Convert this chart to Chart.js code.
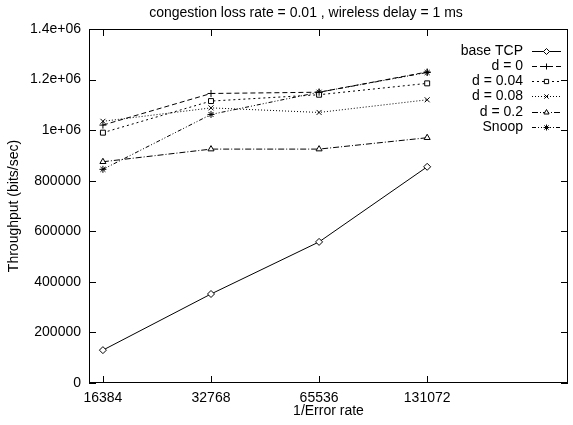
<!DOCTYPE html>
<html>
<head>
<meta charset="utf-8">
<script src="https://cdn.jsdelivr.net/npm/chart.js@4/dist/chart.umd.min.js"></script>
<style>
  html, body { margin: 0; padding: 0; background: #fff; }
  #wrap { width: 573px; height: 425px; }
</style>
</head>
<body>
<div id="wrap"><canvas id="tputChart" width="573" height="425"></canvas></div>
<script>
// 1/error rate on the x axis, throughput (bits/sec) per variant
var errorRates = [16384, 32768, 65536, 131072];
var baseTcp = [130000, 352000, 558000, 855000];
var dZero = [1020000, 1145000, 1150000, 1230000];
var dPoint04 = [990000, 1115000, 1140000, 1185000];
var dPoint08 = [1035000, 1088000, 1070000, 1120000];
var dPoint2 = [875000, 925000, 925000, 970000];
var snoop = [845000, 1062000, 1150000, 1228000];
var yTicks = [0, 200000, 400000, 600000, 800000, 1000000, 1200000, 1400000];

var FONT = '"Liberation Sans", Arial, Helvetica, sans-serif';

function pts(vals) {
    return vals.map(function (v, i) { return { x: errorRates[i], y: v }; });
}

function series(label, vals, style, dash) {
    return {
        label: label,
        data: pts(vals),
        borderColor: '#000',
        borderWidth: 1,
        borderDash: dash,
        pointStyle: style,
        pointRadius: 3.5,
        pointBorderWidth: 1,
        pointBorderColor: '#000',
        pointBackgroundColor: '#fff',
        fill: false,
        tension: 0
    };
}

// gnuplot-like frame: border, inward mirrored ticks, title and legend
var gnuFrame = {
    id: 'gnuFrame',
    afterDraw: function (chart) {
        var ctx = chart.ctx, a = chart.chartArea;
        var xs = chart.scales.x, ys = chart.scales.y;
        ctx.save();
        ctx.strokeStyle = '#000';
        ctx.lineWidth = 1;
        ctx.setLineDash([]);
        ctx.strokeRect(a.left + 0.5, a.top + 0.5, a.right - a.left - 1, a.bottom - a.top - 1);
        ctx.beginPath();
        errorRates.forEach(function (v) {
            var px = Math.round(xs.getPixelForValue(v)) + 0.5;
            ctx.moveTo(px, a.bottom); ctx.lineTo(px, a.bottom - 7);
            ctx.moveTo(px, a.top); ctx.lineTo(px, a.top + 7);
        });
        yTicks.forEach(function (v) {
            var py = Math.round(ys.getPixelForValue(v)) + 0.5;
            ctx.moveTo(a.left, py); ctx.lineTo(a.left + 7, py);
            ctx.moveTo(a.right, py); ctx.lineTo(a.right - 7, py);
        });
        ctx.stroke();

        ctx.fillStyle = '#000';
        ctx.font = '14px ' + FONT;
        ctx.textAlign = 'center';
        ctx.textBaseline = 'middle';
        ctx.fillText('congestion loss rate = 0.01 , wireless delay = 1 ms', 306, 13);

        // legend: right aligned text, sample line on the right
        ctx.textAlign = 'right';
        chart.data.datasets.forEach(function (ds, i) {
            var y = Math.round(50.5 + i * 15.3) + 0.5;
            ctx.fillStyle = '#000';
            ctx.fillText(ds.label, 523, y);
            ctx.beginPath();
            ctx.setLineDash(ds.borderDash || []);
            ctx.moveTo(532, y);
            ctx.lineTo(561, y);
            ctx.stroke();
            ctx.setLineDash([]);
            ctx.fillStyle = '#fff';
            Chart.helpers.drawPoint(ctx, {
                pointStyle: ds.pointStyle, radius: 3, borderWidth: 1
            }, 546.5, y);
        });
        ctx.restore();
    }
};

Chart.defaults.font.family = FONT;
Chart.defaults.font.size = 14;
Chart.defaults.color = '#000';

new Chart(document.getElementById('tputChart'), {
    type: 'line',
    data: {
        datasets: [
            series('base TCP', baseTcp, 'rectRot', []),
            series('d = 0', dZero, 'cross', [5, 3]),
            series('d = 0.04', dPoint04, 'rect', [2, 3]),
            series('d = 0.08', dPoint08, 'crossRot', [1, 2]),
            series('d = 0.2', dPoint2, 'triangle', [6, 2, 1, 2]),
            series('Snoop', snoop, 'star', [4, 2, 1, 2, 1, 2])
        ]
    },
    options: {
        responsive: false,
        animation: false,
        devicePixelRatio: 1,
        layout: { padding: { top: 29, right: 1, left: 0, bottom: 0 } },
        plugins: {
            legend: { display: false },
            tooltip: { enabled: false },
            title: { display: false }
        },
        scales: {
            x: {
                type: 'logarithmic',
                min: 14985,
                max: 323400,
                afterBuildTicks: function (s) {
                    s.ticks = errorRates.map(function (v) { return { value: v }; });
                },
                afterFit: function (s) { s.height = 42; },
                grid: { display: false, drawTicks: false },
                border: { display: false },
                ticks: {
                    padding: 7,
                    maxRotation: 0,
                    autoSkip: false,
                    callback: function (v) { return String(v); }
                },
                title: { display: true, text: '1/Error rate', padding: { top: 0, bottom: 5 } }
            },
            y: {
                min: 0,
                max: 1400000,
                afterBuildTicks: function (s) {
                    s.ticks = yTicks.map(function (v) { return { value: v }; });
                },
                afterFit: function (s) { s.width = 89; },
                grid: { display: false, drawTicks: false },
                border: { display: false },
                ticks: {
                    padding: 8,
                    callback: function (v) {
                        if (v === 0) return '0';
                        if (v >= 1000000) return (v / 1000000) + 'e+06';
                        return String(v);
                    }
                },
                title: { display: true, text: 'Throughput (bits/sec)', padding: { top: 6, bottom: 0 } }
            }
        }
    },
    plugins: [gnuFrame]
});
</script>
</body>
</html>
